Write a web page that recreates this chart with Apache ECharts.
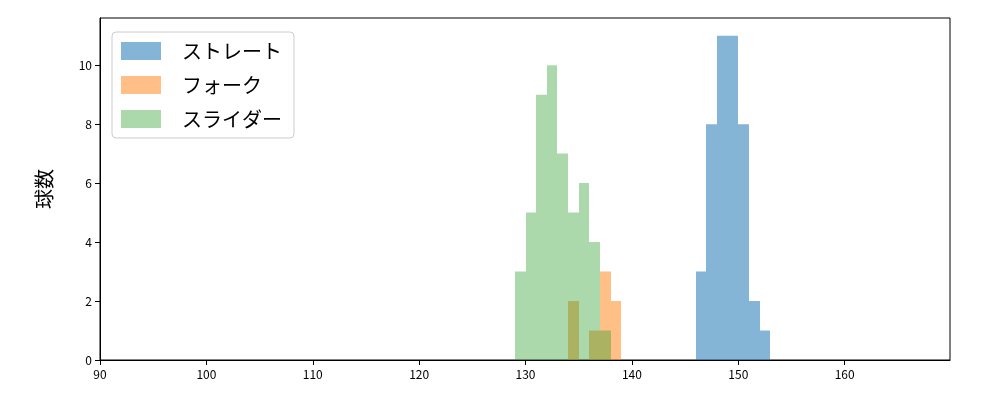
<!DOCTYPE html>
<html>
<head>
<meta charset="utf-8">
<script src="https://cdn.jsdelivr.net/npm/echarts@6/dist/echarts.min.js"></script>
<style>html,body{margin:0;padding:0;background:#fff}#main{width:1000px;height:400px}</style>
</head>
<body>
<div id="main"></div>
<script>
// 各球種のビン（開始, 終了, 球数）
var straightBins = [[146,147,3],[147,148,8],[148,149,11],[149,150,11],[150,151,8],[151,152,2],[152,153,1]];
var forkBins = [[134,135,2],[136,137,1],[137,138,3],[138,139,2]];
var sliderBins = [[129,130,3],[130,131,5],[131,132,9],[132,133,10],[133,134,7],[134,135,5],[135,136,6],[136,137,4],[137,138,1]];
var seriesNames = ['ストレート','フォーク','スライダー'];
var colors = ['rgba(31,119,180,0.55)','rgba(255,127,14,0.5)','rgba(44,160,44,0.4)'];
var font = '"Noto Sans CJK JP", "DejaVu Sans", sans-serif';

function renderBin(params, api){
    var p0 = api.coord([api.value(0), api.value(2)]);
    var p1 = api.coord([api.value(1), 0]);
    return {type:'rect', shape:{x:Math.round(p0[0]), y:p0[1], width:Math.round(p1[0])-Math.round(p0[0]), height:p1[1]-p0[1]},
        style:{fill:api.visual('color')}};
}

var allBins = [straightBins, forkBins, sliderBins];
var seriesArr = [];
for (var i=0;i<allBins.length;i++){
    seriesArr.push({
        name:seriesNames[i],
        type:'custom',
        renderItem:renderBin,
        itemStyle:{color:colors[i]},
        encode:{x:[0,1], y:2},
        data:allBins[i]
    });
}

var myChart = echarts.init(document.getElementById('main'));
var option = {
    animation:false,
    grid:{left:100, right:50, top:18, bottom:40},
    legend:{
        orient:'vertical', left:112, top:32,
        icon:'rect',
        itemWidth:40, itemHeight:18, itemGap:14,
        padding:[9,12,9,9],
        borderColor:'#ccc', borderWidth:1, borderRadius:4,
        textStyle:{fontFamily:font, fontSize:20, color:'#000', padding:[0,0,0,16]},
        data:seriesNames.map(function(n,i){return {name:n, itemStyle:{color:colors[i]}};})
    },
    xAxis:{
        type:'value', min:90, max:169.9, interval:10,
        axisLine:{lineStyle:{color:'#000'}},
        axisTick:{length:5, lineStyle:{color:'#000'}},
        axisLabel:{color:'#000', fontFamily:font, fontSize:12, showMaxLabel:false},
        splitLine:{show:false}
    },
    yAxis:{
        type:'value', min:0, max:11.6, interval:2,
        name:'球数', nameLocation:'middle', nameGap:46,
        nameTextStyle:{fontFamily:font, fontSize:20, color:'#000'},
        axisLine:{show:true, lineStyle:{color:'#000'}},
        axisTick:{show:true, length:5, lineStyle:{color:'#000'}},
        axisLabel:{color:'#000', fontFamily:font, fontSize:12, showMaxLabel:false},
        splitLine:{show:false}
    },
    series:seriesArr
};
myChart.setOption(option);
// 枠線（上・右）
myChart.setOption({graphic:[{type:'rect', shape:{x:100,y:18,width:850,height:342}, style:{fill:'none', stroke:'#000', lineWidth:1}, silent:true}]});
</script>
</body>
</html>
